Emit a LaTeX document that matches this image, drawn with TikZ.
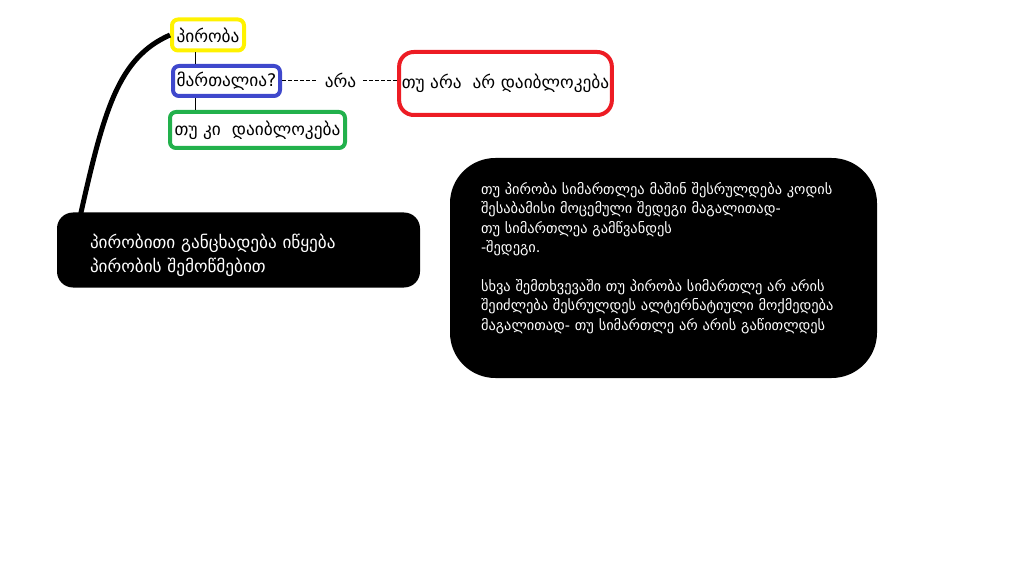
\documentclass[tikz,border=0pt]{standalone}
\usepackage{fontspec}
\setmainfont{DejaVu Sans}
\usetikzlibrary{positioning}

\definecolor{pyellow}{RGB}{255,242,0}
\definecolor{pblue}{RGB}{63,72,204}
\definecolor{pred}{RGB}{237,28,36}
\definecolor{pgreen}{RGB}{34,177,76}

\tikzset{
  paintbox/.style={line width=3pt, rounded corners=4.5pt, inner xsep=2pt, text=black,
                   font=\fontsize{13}{15}\selectfont},
  blackbox/.style={fill=black, text=white, align=left}
}

\begin{document}
\begin{tikzpicture}[x=0.75pt,y=0.75pt,yscale=-1,xscale=1]
      \useasboundingbox (0,0) rectangle (1014,588);
      % question boxes
      \node (cond) at (208,35) [paintbox, draw=pyellow, minimum width=54pt, minimum height=23.25pt] {პირობა};
      \node (true) at (226.5,81) [paintbox, draw=pblue, minimum width=80.25pt, minimum height=22.5pt] {მართალია?};
      \node (yes) at (257.5,130) [paintbox, draw=pgreen, minimum width=131.25pt, minimum height=27pt] {თუ კი\ \ დაიბლოკება};
      \node (nobox) at (505.5,83.5) [paintbox, draw=pred, minimum width=156.75pt, minimum height=47.25pt, rounded corners=11pt] {თუ არა\ \ არ დაიბლოკება};
      \node (no) at (340.5,80) [inner xsep=5pt, font=\fontsize{13}{15}\selectfont] {არა};
      \coordinate (stem) at (195,0);
      \draw (cond.south -| stem) -- (true.north -| stem);
      \draw (true.south -| stem) -- (yes.north -| stem);
      \draw [dash pattern=on 3pt off 1.5pt] (true.east |- no) -- (no.west);
      \draw [dash pattern=on 3pt off 1.5pt] (no.east) -- (nobox.west |- no);
      % notes
      \node (start) at (238.5,250) [blackbox, rounded corners=12pt, minimum width=272.25pt, minimum height=56.25pt,
            text width=222.75pt, inner xsep=24.75pt, font=\fontsize{12.9}{18}\selectfont]
            {პირობითი განცხადება იწყება\\პირობის შემოწმებით\par\vspace*{-7.5pt}};
      \node (expl) at (663.5,268) [blackbox, rounded corners=34pt, minimum width=320.25pt, minimum height=165pt,
            text width=273.75pt, inner xsep=23.25pt, font=\fontsize{10.8}{14.6}\selectfont]
            {თუ პირობა სიმართლეა მაშინ შესრულდება კოდის\\
             შესაბამისი მოცემული შედეგი მაგალითად-\\
             თუ სიმართლეა გამწვანდეს\\
             -შედეგი.\\[14.6pt]
             სხვა შემთხვევაში თუ პირობა სიმართლე არ არის\\
             შეიძლება შესრულდეს ალტერნატიული მოქმედება\\
             მაგალითად- თუ სიმართლე არ არის გაწითლდეს\par\vspace*{15pt}};
      \coordinate (tail) at (80,217);
      \draw [line width=3.75pt] (tail) .. controls (104,110) and (118,58) .. (cond.west);
\end{tikzpicture}
\end{document}
